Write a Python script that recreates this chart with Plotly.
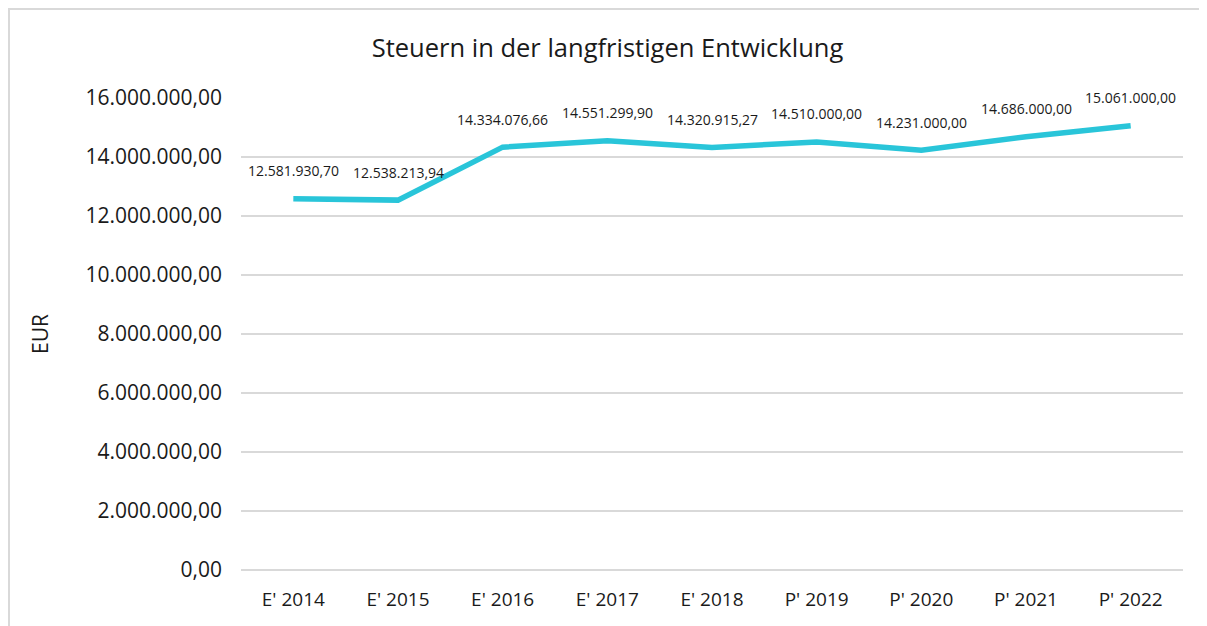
import plotly.graph_objects as go

jahre = ["E' 2014", "E' 2015", "E' 2016", "E' 2017", "E' 2018",
         "P' 2019", "P' 2020", "P' 2021", "P' 2022"]
steuern = [12581930.70, 12538213.94, 14334076.66, 14551299.90, 14320915.27,
           14510000.00, 14231000.00, 14686000.00, 15061000.00]


def de_format(v):
    # 1234567.8 -> 1.234.567,80
    s = f"{v:,.2f}"
    return s.replace(",", "X").replace(".", ",").replace("X", ".")


fig = go.Figure(go.Scatter(
    x=jahre,
    y=steuern,
    mode='lines',
    line=dict(color='#29C5D9', width=5.5),
    showlegend=False,
    hoverinfo='skip',
))

for j, v in zip(jahre, steuern):
    fig.add_annotation(
        x=j, y=v, text=de_format(v), showarrow=False,
        yshift=28, font=dict(size=14, color='#1a1a1a'),
    )

# outer chart border (like the Excel chart frame)
fig.add_shape(type='rect', xref='paper', yref='paper',
              x0=-0.2463, x1=1.2, y0=-0.3, y1=1.1886,
              line=dict(color='#D9D9D9', width=2), layer='below')

fig.update_layout(
    title={'text': "Steuern in der langfristigen Entwicklung", 'x': 0.5,
           'xanchor': 'center', 'y': 1 - 40 / 618, 'yanchor': 'middle',
           'font': {'size': 25.5, 'color': '#1a1a1a'}},
    font={'color': "#1a1a1a", 'family': "Open Sans"},
    separators=',.',
    width=1199,
    height=618,
    margin=dict(l=233, r=24, t=90, b=56),
    plot_bgcolor='white',
    paper_bgcolor='white',
    xaxis=dict(
        showgrid=False,
        showline=False,
        tickfont=dict(size=19),
        ticks='',
        ticklabelstandoff=16,
        range=[-0.5, 8.5],
    ),
    yaxis=dict(
        title=dict(text='EUR', font=dict(size=21), standoff=31),
        range=[0, 16000000],
        dtick=2000000,
        tickformat=',.2f',
        showgrid=True,
        gridcolor='#D9D9D9',
        gridwidth=1.5,
        zeroline=True,
        zerolinecolor='#D9D9D9',
        zerolinewidth=1.5,
        tickfont=dict(size=21),
        ticks='',
        ticklabelstandoff=18,
    ),
)

fig.write_html("out.html")
